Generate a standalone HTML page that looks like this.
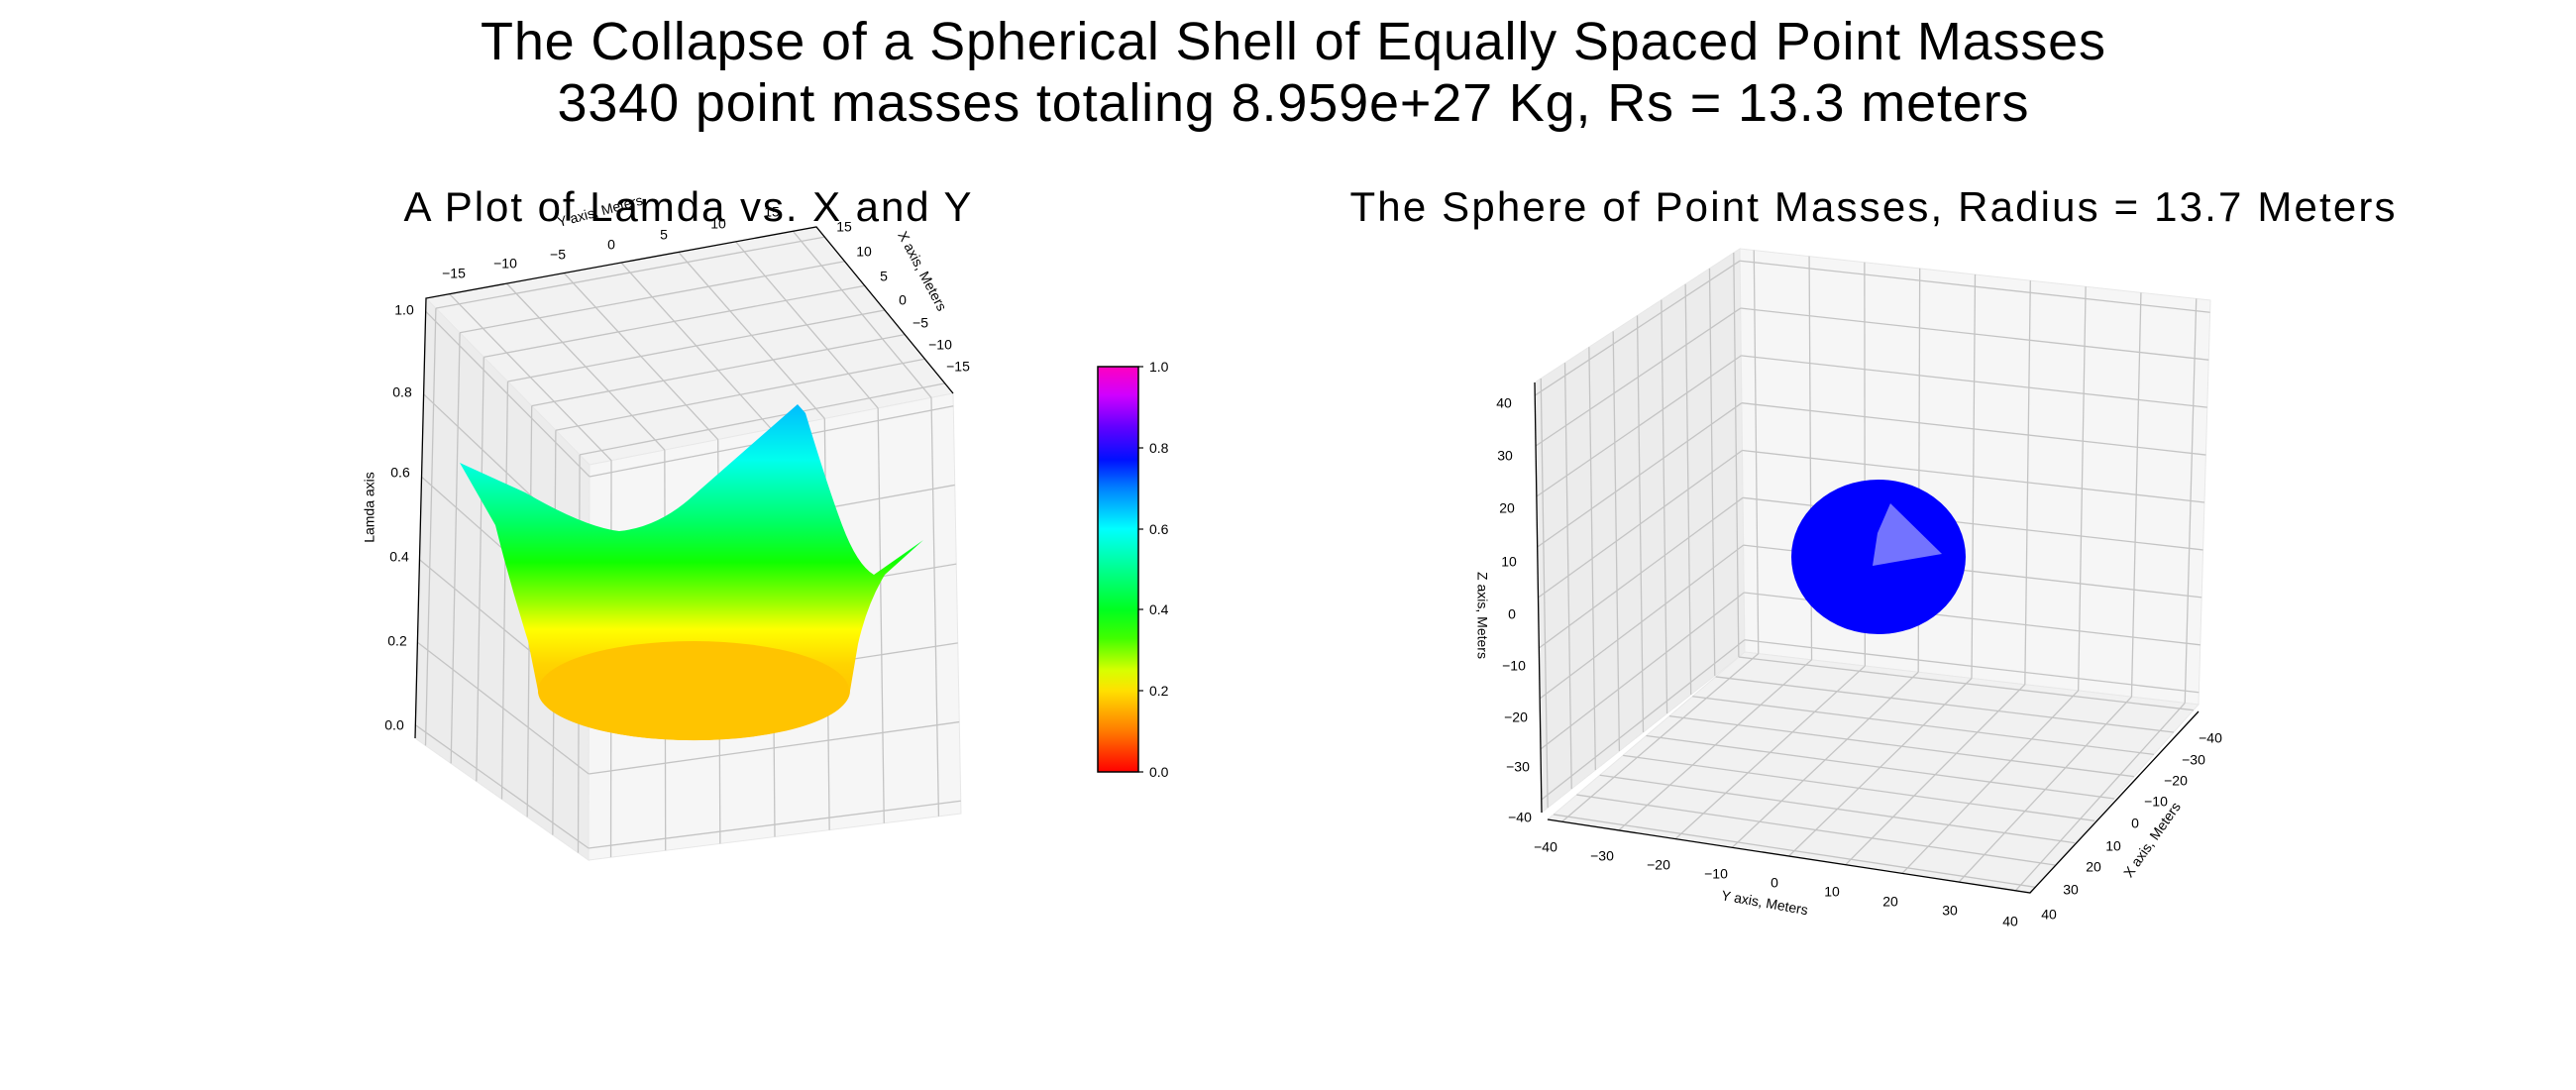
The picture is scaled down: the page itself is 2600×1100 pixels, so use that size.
<!DOCTYPE html>
<html><head><meta charset="utf-8"><style>
html,body{margin:0;padding:0;background:#fff;}
svg{display:block;font-family:"Liberation Sans",sans-serif;}
</style></head><body>
<svg id="s" width="2600" height="1100" viewBox="0 0 2600 1100" xmlns="http://www.w3.org/2000/svg">
<defs>
<linearGradient id="cb" x1="0" y1="1" x2="0" y2="0">
<stop offset="0" stop-color="#ff0000"/><stop offset="0.1" stop-color="#ff7a00"/><stop offset="0.2" stop-color="#ffe000"/><stop offset="0.25" stop-color="#d8ff00"/><stop offset="0.33" stop-color="#40ff00"/><stop offset="0.4" stop-color="#00ff20"/><stop offset="0.5" stop-color="#00ff90"/><stop offset="0.6" stop-color="#00ffff"/><stop offset="0.7" stop-color="#0080ff"/><stop offset="0.77" stop-color="#0010ff"/><stop offset="0.85" stop-color="#6000ff"/><stop offset="0.93" stop-color="#d000ff"/><stop offset="1" stop-color="#ff00c0"/>
</linearGradient>
<linearGradient id="cr" gradientUnits="userSpaceOnUse" x1="0" y1="405" x2="0" y2="700">
<stop offset="0" stop-color="#00b8ff"/><stop offset="0.2" stop-color="#00ffee"/><stop offset="0.42" stop-color="#00ff60"/><stop offset="0.55" stop-color="#10ff00"/><stop offset="0.68" stop-color="#90ff00"/><stop offset="0.78" stop-color="#ffff00"/><stop offset="0.9" stop-color="#ffd400"/><stop offset="1" stop-color="#ffc400"/>
</linearGradient>
</defs>
<g id="grid"></g>
<text x="1305" y="60" font-size="54" text-anchor="middle" textLength="1640">The Collapse of a Spherical Shell of Equally Spaced Point Masses</text>
<text x="1305" y="122" font-size="54" text-anchor="middle" textLength="1485">3340 point masses totaling 8.959e+27 Kg, Rs = 13.3 meters</text>
<text x="694" y="223" font-size="42" text-anchor="middle" textLength="573">A Plot of Lamda vs. X and Y</text>
<text x="1890" y="223" font-size="42" text-anchor="middle" textLength="1055">The Sphere of Point Masses, Radius = 13.7 Meters</text>

<!-- crown surface -->
<path d="M464,467 L530,497 Q590,532 625,536 Q665,532 700,500 L805,408 L813,417 Q835,490 850,530 Q865,570 882,580 L932,545 L893,580 Q875,610 866,650 L858,697 A157,50 0 0 1 543,697 L533,647 Q515,590 500,530 Z" fill="url(#cr)"/>
<ellipse cx="700" cy="697" rx="157" ry="50" fill="#ffc400"/>

<!-- colorbar -->
<rect x="1108" y="370" width="41" height="409" fill="url(#cb)" stroke="#000" stroke-width="1.5"/>
<g font-size="14" fill="#000">
<text x="1160" y="375">1.0</text><text x="1160" y="457">0.8</text><text x="1160" y="539">0.6</text><text x="1160" y="620">0.4</text><text x="1160" y="702">0.2</text><text x="1160" y="784">0.0</text>
</g>
<g stroke="#000" stroke-width="1.2"><line x1="1149" y1="370" x2="1154" y2="370"/><line x1="1149" y1="452" x2="1154" y2="452"/><line x1="1149" y1="534" x2="1154" y2="534"/><line x1="1149" y1="615" x2="1154" y2="615"/><line x1="1149" y1="697" x2="1154" y2="697"/><line x1="1149" y1="779" x2="1154" y2="779"/></g>

<!-- sphere -->
<ellipse cx="1896" cy="562" rx="88" ry="78" fill="#0000ff"/>
<path d="M1908,508 L1960,559 L1890,571 L1895,538 Z" fill="#9090ff" opacity="0.8"/>

<g id="lbl" font-size="14" fill="#000"></g>
</svg>
<script>
var g=document.getElementById('grid'),L=document.getElementById('lbl'),NS="http://www.w3.org/2000/svg";
function el(p,t,a){var e=document.createElementNS(NS,t);for(var k in a)e.setAttribute(k,a[k]);p.appendChild(e);return e;}
function lerp(a,b,t){return[a[0]+(b[0]-a[0])*t,a[1]+(b[1]-a[1])*t];}
function poly(pts,fill){el(g,'polygon',{points:pts.map(function(p){return p.join(',')}).join(' '),fill:fill,stroke:'#e8e8e8','stroke-width':1});}
function grid(P00,P10,P11,P01,us,vs){
 us.forEach(function(u){var a=lerp(P00,P10,u),b=lerp(P01,P11,u);el(g,'line',{x1:a[0],y1:a[1],x2:b[0],y2:b[1],stroke:'#c4c4c4','stroke-width':1.3});});
 vs.forEach(function(v){var a=lerp(P00,P01,v),b=lerp(P10,P11,v);el(g,'line',{x1:a[0],y1:a[1],x2:b[0],y2:b[1],stroke:'#c4c4c4','stroke-width':1.3});});
}
function rng(n,o){var r=[];for(var i=0;i<n;i++)r.push(o+i*(1-2*o)/(n-1));return r;}
var A=[430,301],B=[824,229],C=[962,397],D=[595,469],A2=[419,745],D2=[594,868],C2=[970,821];
poly([A,B,C,D],'#f2f2f2');poly([A,D,D2,A2],'#ececec');poly([D,C,C2,D2],'#f6f6f6');
var u7=rng(7,0.06),z6=rng(6,0.03);
grid(A,B,C,D,u7,u7);
grid(A,D,D2,A2,u7,z6);
grid(D,C,C2,D2,u7,z6);
el(g,'polyline',{points:[A2,A,B,C].map(function(p){return p.join(',')}).join(' '),fill:'none',stroke:'#000','stroke-width':1.3});
var R1=[1549,386],R2=[1756,251],R3=[2231,303],R4=[1556,820],R5=[1761,658],R6=[2219,711],R7=[1562,827],R8=[2049,901];
poly([R1,R2,R5,R4],'#ececec');poly([R2,R3,R6,R5],'#f6f6f6');poly([R7,R5,R6,R8],'#f1f1f1');
var u9=rng(9,0.03);
grid(R1,R2,R5,R4,u9,u9);
grid(R2,R3,R6,R5,u9,u9);
grid(R7,R5,R6,R8,u9,u9);
el(g,'polyline',{points:[R1,R4].map(function(p){return p.join(',')}).join(' '),fill:'none',stroke:'#000','stroke-width':1.3});
el(g,'polyline',{points:[R7,R8,[2219,718]].map(function(p){return p.join(',')}).join(' '),fill:'none',stroke:'#000','stroke-width':1.3});
function t(x,y,s,rot,anc){var e=el(L,'text',{x:x,y:y,'text-anchor':anc||'middle','dominant-baseline':'middle'});if(rot)e.setAttribute('transform','rotate('+rot+' '+x+' '+y+')');e.textContent=s;}
[['1.0',408,314],['0.8',406,397],['0.6',404,478],['0.4',403,563],['0.2',401,648],['0.0',398,733]].forEach(function(a){t(a[1],a[2],a[0]);});
[['\u221215',458,277],['\u221210',510,267],['\u22125',563,258],['0',617,248],['5',670,238],['10',725,227],['15',779,215]].forEach(function(a){t(a[1],a[2],a[0]);});
[['15',852,230],['10',872,255],['5',892,280],['0',911,304],['\u22125',929,327],['\u221210',949,349],['\u221215',967,371]].forEach(function(a){t(a[1],a[2],a[0]);});
t(606,214,'Y axis, Meters',-15);t(930,274,'X axis, Meters',62);t(374,512,'Lamda axis',-90);
[['40',1518,408],['30',1519,461],['20',1521,514],['10',1523,568],['0',1526,621],['\u221210',1528,673],['\u221220',1530,725],['\u221230',1532,775],['\u221240',1534,826]].forEach(function(a){t(a[1],a[2],a[0]);});
[['\u221240',1560,856],['\u221230',1617,865],['\u221220',1674,874],['\u221210',1732,883],['0',1791,892],['10',1849,901],['20',1908,911],['30',1968,920],['40',2029,931]].forEach(function(a){t(a[1],a[2],a[0]);});
[['\u221240',2231,746],['\u221230',2214,768],['\u221220',2196,789],['\u221210',2176,810],['0',2155,832],['10',2133,855],['20',2113,876],['30',2090,899],['40',2068,924]].forEach(function(a){t(a[1],a[2],a[0]);});
t(1495,621,'Z axis, Meters',90);t(1781,912,'Y axis, Meters',10);t(2173,848,'X axis, Meters',-55);
</script>
</body></html>
